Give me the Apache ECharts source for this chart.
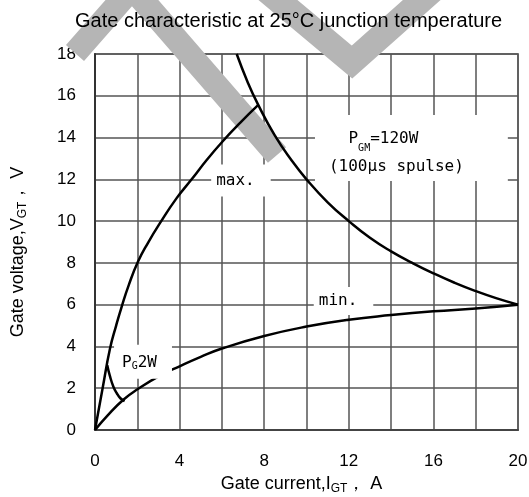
<!DOCTYPE html>
<html>
<head>
<meta charset="utf-8">
<script src="https://cdn.jsdelivr.net/npm/echarts@6/dist/echarts.min.js"></script>
<style>html,body{margin:0;padding:0;background:#fff;}#c{width:529px;height:497px;}</style>
</head>
<body>
<div id="c"></div>
<script>
// ---- data ----
const xTickLabels = [0, 4, 8, 12, 16, 20];
const yTickLabels = [0, 2, 4, 6, 8, 10, 12, 14, 16, 18];

// max. gate characteristic (I, V)
const maxCurve = [[0,0],[0.36,2.0],[0.71,3.9],[1.0,5.0],[1.26,5.9],[1.6,6.95],[2.03,8.05],[2.5,8.95],[3.07,9.9],[3.86,11.1],[4.57,12.0],[5.3,12.95],[6.02,13.8],[6.86,14.7],[7.72,15.56]];
// min. gate characteristic
const minCurve = [[0,0],[0.6,0.7],[1.34,1.45],[2.03,1.96],[3.07,2.6],[4,3.05],[5,3.5],[6,3.9],[8,4.5],[10,4.95],[12,5.28],[14,5.5],[16,5.68],[18,5.82],[20,6.0]];
// PGM = 120 W peak power curve
const pgmCurve = [[6.7,18],[7.2,16.7],[7.7,15.6],[8.5,14.1],[9.3,12.9],[10,12],[11,10.9],[12,10],[13,9.2],[14,8.55],[15,8],[16,7.5],[17,7.05],[18,6.65],[19,6.3],[20,6]];
// PG = 2 W average power curve
const pg2wCurve = [[0.58,3.1],[0.7,2.6],[0.87,2.07],[1.03,1.76],[1.2,1.52],[1.4,1.38]];

// annotation anchors (data coordinates)
const annotationNames = ['max', 'min', 'pgm', 'pg2w'];
const annotationAnchors = [[6.90, 11.95], [11.75, 6.18], [14.96, 13.50], [2.27, 3.27]];

const chart = echarts.init(document.getElementById('c'));

const lineStyle = { color: '#000', width: 2.5 };
const monoFont = 'DejaVu Sans Mono';

function curve(name, data) {
  return {
    name: name, type: 'line', data: data, showSymbol: false, smooth: 0.5,
    lineStyle: lineStyle, z: 2, silent: true
  };
}

const labelDefs = {
  max: { formatter: '{t|max.}', padding: [7, 16, 7, 5], lh: 18 },
  min: { formatter: '{t|min.}', padding: [5, 16, 5, 5], lh: 18 },
  pgm: { formatter: '{t|P}{s|GM}{w|=120W}\n{t|(100μs spulse)}', padding: [10, 44, 0, 14], lh: 28 },
  pg2w: { formatter: '{t|P}{s|G}{t|2W}', padding: [9, 15, 7, 8], lh: 18 }
};

const labelData = annotationNames.map((n, i) => {
  const d = labelDefs[n];
  return {
    value: annotationAnchors[i],
    label: {
      show: true, position: 'inside', formatter: d.formatter, opacity: 1,
      backgroundColor: '#fff', padding: d.padding, align: 'center', verticalAlign: 'middle',
      rich: {
        t: { fontFamily: monoFont, fontSize: 16, color: '#000', lineHeight: d.lh, verticalAlign: 'middle' },
        w: { fontFamily: monoFont, fontSize: 16, color: '#000', lineHeight: d.lh, verticalAlign: 'middle', padding: [0, 26, 0, 0] },
        s: { fontFamily: monoFont, fontSize: 10, color: '#000', lineHeight: d.lh / 2 + 5, verticalAlign: 'bottom' }
      }
    }
  };
});

const nameRich = {
  a: { fontFamily: 'Liberation Sans', fontSize: 18, color: '#000', lineHeight: 22, verticalAlign: 'middle' },
  s: { fontFamily: 'Liberation Sans', fontSize: 12, color: '#000', lineHeight: 12, verticalAlign: 'bottom' }
};

const option = {
  backgroundColor: '#fff',
  animation: false,
  title: {
    text: 'Gate characteristic at 25°C junction temperature',
    left: 70, top: 6,
    textStyle: { fontFamily: 'Liberation Sans', fontSize: 20, fontWeight: 'normal', color: '#000' }
  },
  graphic: [
    { type: 'polyline', z: 1, silent: true, shape: { points: [[75,53],[132,-12],[277,155]] },
      style: { stroke: '#b5b5b5', lineWidth: 24, fill: null, lineJoin: 'miter', lineCap: 'butt' } },
    { type: 'polyline', z: 1, silent: true, shape: { points: [[266,-10],[352,62],[433,-10]] },
      style: { stroke: '#b5b5b5', lineWidth: 25, fill: null, lineJoin: 'miter', lineCap: 'butt' } }
  ],
  grid: { left: 95, right: 11, top: 54, bottom: 67, show: true, borderColor: '#888', borderWidth: 2,
          containLabel: false, outerBoundsMode: 'none' },
  xAxis: {
    type: 'value', min: 0, max: 20, interval: 2,
    name: '{a|Gate current,I}{s|GT}{a|， A}',
    nameLocation: 'middle', nameGap: 39,
    nameTextStyle: { padding: [0, 10, 0, 0], rich: nameRich },
    axisLine: { show: true, lineStyle: { color: '#444', width: 2 } },
    axisTick: { show: false },
    axisLabel: {
      margin: 23, fontFamily: 'Liberation Sans', fontSize: 17, color: '#000',
      formatter: v => xTickLabels.indexOf(v) >= 0 ? String(v) : ''
    },
    splitLine: { show: true, lineStyle: { color: '#555', width: 1.5 } }
  },
  yAxis: {
    type: 'value', min: 0, max: 18, interval: 2,
    name: '{a|Gate voltage,V}{s|GT}{a|， V}',
    nameLocation: 'middle', nameGap: 66,
    nameTextStyle: { padding: [0, 20, 0, 0], rich: nameRich },
    axisLine: { show: true, lineStyle: { color: '#333', width: 2 } },
    axisTick: { show: false },
    axisLabel: {
      margin: 19, fontFamily: 'Liberation Sans', fontSize: 17, color: '#000',
      formatter: v => yTickLabels.indexOf(v) >= 0 ? String(v) : ''
    },
    splitLine: { show: true, lineStyle: { color: '#555', width: 1.5 } }
  },
  series: [
    curve('max', maxCurve),
    curve('min', minCurve),
    curve('PGM', pgmCurve),
    curve('PG2W', pg2wCurve),
    {
      name: 'labels', type: 'scatter', symbolSize: 0, data: labelData, z: 5, silent: true,
      itemStyle: { opacity: 1 }, emphasis: { disabled: true }
    }
  ]
};

chart.setOption(option);
</script>
</body>
</html>
